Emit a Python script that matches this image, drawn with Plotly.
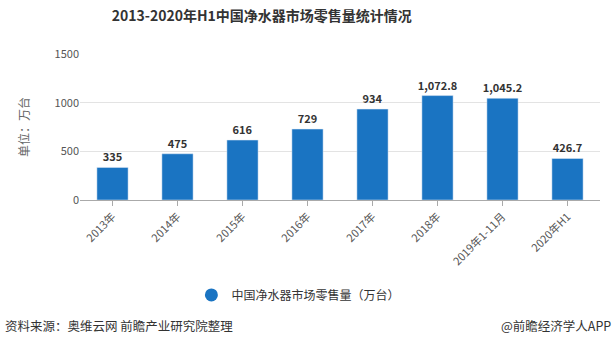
import plotly.graph_objects as go

categories = ["2013年", "2014年", "2015年", "2016年", "2017年", "2018年", "2019年1-11月", "2020年H1"]
values = [335, 475, 616, 729, 934, 1072.8, 1045.2, 426.7]
labels = ["335", "475", "616", "729", "934", "1,072.8", "1,045.2", "426.7"]
series_name = "中国净水器市场零售量（万台）"
y_ticks = [0, 500, 1000, 1500]

FONT = "Noto Sans CJK SC"
BLUE = "#1a74c2"

fig = go.Figure()
fig.add_trace(go.Bar(
    x=categories, y=values, text=labels, textposition="outside", constraintext="none",
    textfont=dict(family=FONT, size=11, color="#333333", weight="bold"),
    marker=dict(color=BLUE), width=0.48, showlegend=False, cliponaxis=False,
))
fig.add_trace(go.Scatter(
    x=[None], y=[None], mode="markers", name=series_name,
    marker=dict(symbol="circle", size=13, color=BLUE), showlegend=True,
))

fig.update_layout(
    width=616, height=347,
    margin=dict(l=80, r=16, t=54, b=147),
    paper_bgcolor="white", plot_bgcolor="white",
    font=dict(family=FONT, size=11, color="#555555"),
    title=dict(text="<b>2013-2020年H1中国净水器市场零售量统计情况</b>", x=0.425, xanchor="center",
               y=0.955, yanchor="middle", font=dict(family=FONT, size=14, color="#333333")),
    xaxis=dict(tickangle=-45, showline=True, linecolor="#aaaaaa", ticks="outside",
               tickcolor="#aaaaaa", ticklen=5, tickfont=dict(size=11, color="#555555")),
    yaxis=dict(range=[0, 1500], tickvals=y_ticks, showgrid=True, gridcolor="#e3e3e3",
               zeroline=False, ticks="", tickfont=dict(size=11, color="#555555"),
               title=dict(text="单位：万台", font=dict(size=12, color="#666666"), standoff=22)),
    legend=dict(orientation="h", x=0.42, xanchor="center", y=-0.65, yanchor="middle",
                font=dict(family=FONT, size=12, color="#333333")),
    bargap=0.5,
)
fig.add_annotation(text="资料来源：奥维云网 前瞻产业研究院整理", xref="paper", yref="paper",
                   x=-0.148, y=-0.86, xanchor="left", yanchor="middle", showarrow=False,
                   font=dict(family=FONT, size=12.5, color="#333333"))
fig.add_annotation(text="@前瞻经济学人APP", xref="paper", yref="paper",
                   x=1.025, y=-0.86, xanchor="right", yanchor="middle", showarrow=False,
                   font=dict(family=FONT, size=12.5, color="#333333"))
fig.write_html("out.html")
